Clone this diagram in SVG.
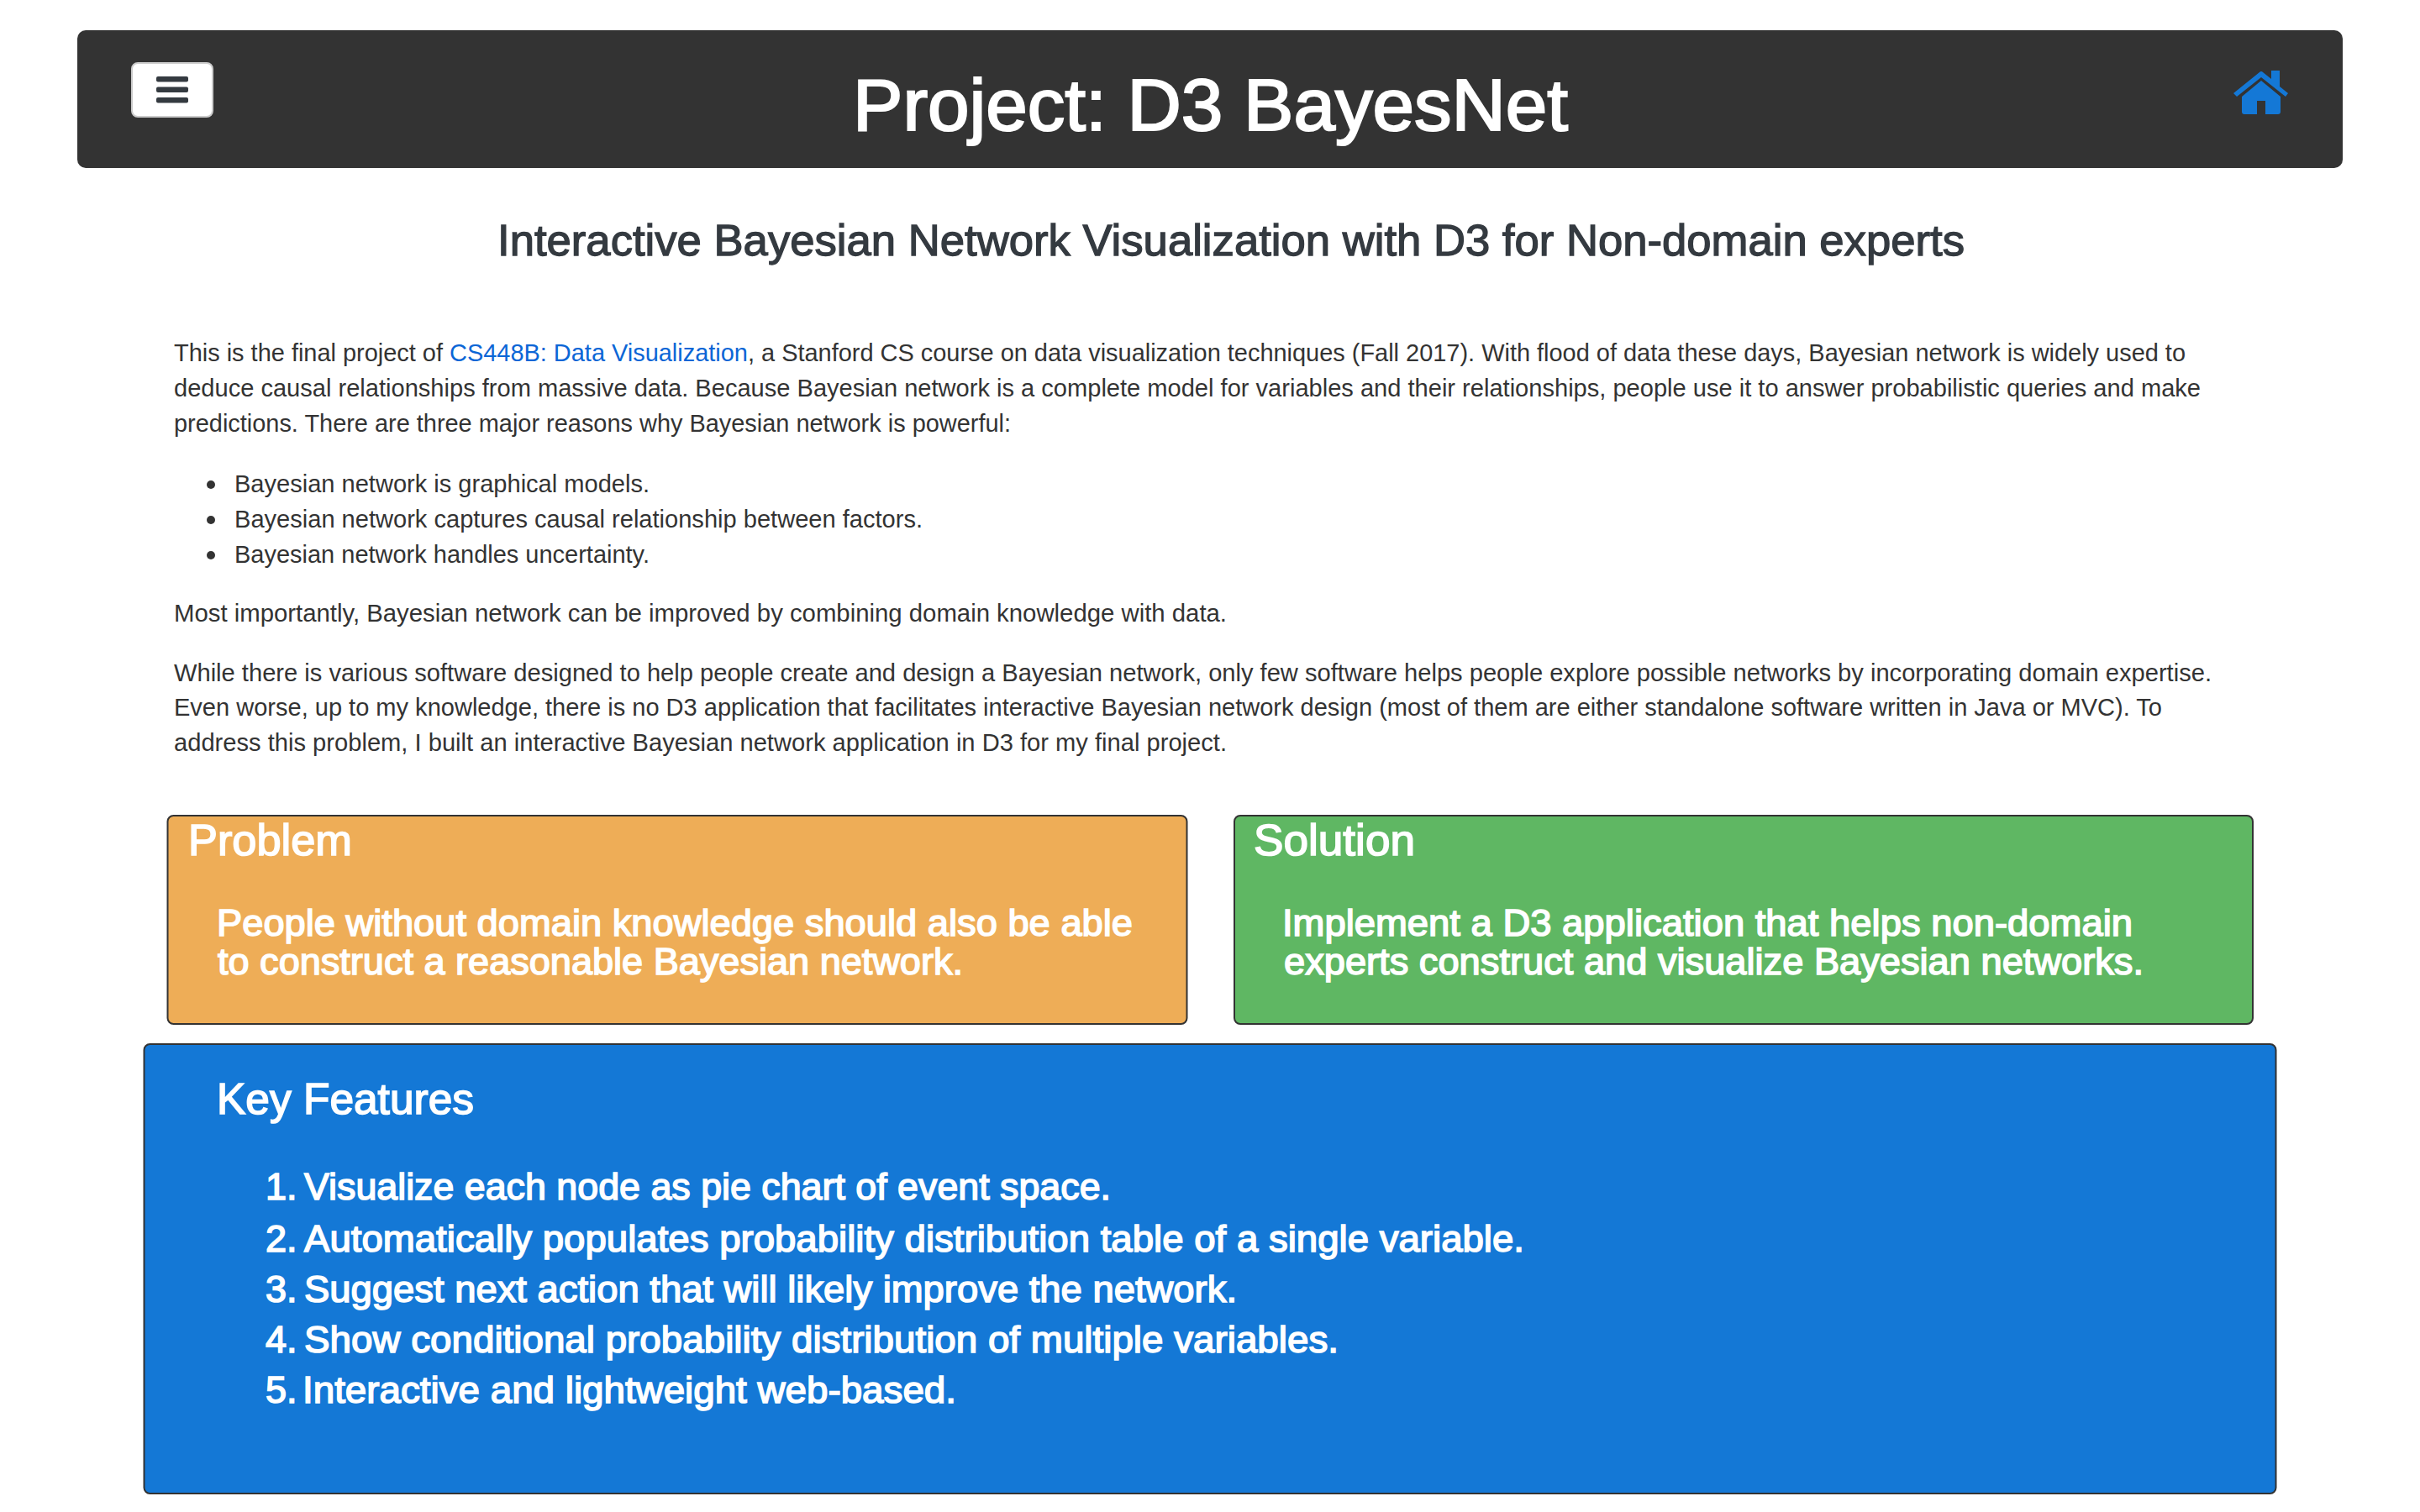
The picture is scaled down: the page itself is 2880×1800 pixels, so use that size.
<svg xmlns="http://www.w3.org/2000/svg" width="2880" height="1800" viewBox="0 0 2880 1800">
<style>
text{font-family:"Liberation Sans",Arial,sans-serif;white-space:pre}
.b{font-size:29px;fill:#333}
.w{fill:#fff;stroke:#fff;stroke-width:1.6px}
.t{font-size:88px;stroke-width:2.2px}
.h{font-size:52px}
.p{font-size:45px}
.k{font-size:45px}
.box{stroke:#333;stroke-width:2px}
</style>
<rect width="2880" height="1800" fill="#fff"/>
<g id="header">
<rect x="92" y="36" width="2696" height="164" rx="10" fill="#333"/>
<text x="1015" y="155" class="w t" textLength="851" lengthAdjust="spacingAndGlyphs">Project: D3 BayesNet</text>
</g>
<g id="menu-button">
<rect x="157" y="75" width="96" height="64" rx="7" fill="#fff" stroke="#ccc" stroke-width="2"/>
<rect x="186" y="91" width="38" height="6.5" rx="2" fill="#343a40"/>
<rect x="186" y="103.500" width="38" height="6.5" rx="2" fill="#343a40"/>
<rect x="186" y="116" width="38" height="6.5" rx="2" fill="#343a40"/>
</g>
<g id="home-icon" fill="#1478d6">
<path d="M2658 111L2689 86Q2691 84 2693 86L2703 94V84H2713V103L2723 111L2720 115L2691 92L2662 115Z"/>
<path d="M2668 115L2691 96L2714 115V133Q2714 136 2711 136H2696V120H2686V136H2671Q2668 136 2668 133Z"/>
</g>
<text id="subtitle" x="592" y="304" font-size="52" fill="#343a40" stroke="#343a40" stroke-width="1.3" textLength="1746" lengthAdjust="spacingAndGlyphs">Interactive Bayesian Network Visualization with D3 for Non-domain experts</text>
<g id="intro">
<text class="b" x="207" y="430" textLength="2394" lengthAdjust="spacingAndGlyphs">This is the final project of <tspan fill="#0b66d6">CS448B: Data Visualization</tspan>, a Stanford CS course on data visualization techniques (Fall 2017). With flood of data these days, Bayesian network is widely used to</text>
<text class="b" x="207" y="472" textLength="2412" lengthAdjust="spacingAndGlyphs">deduce causal relationships from massive data. Because Bayesian network is a complete model for variables and their relationships, people use it to answer probabilistic queries and make</text>
<text class="b" x="207" y="514" textLength="996" lengthAdjust="spacingAndGlyphs">predictions. There are three major reasons why Bayesian network is powerful:</text>
<circle cx="251" cy="577" r="5" fill="#333"/><circle cx="251" cy="619" r="5" fill="#333"/><circle cx="251" cy="661" r="5" fill="#333"/>
<text class="b" x="279" y="586" textLength="494" lengthAdjust="spacingAndGlyphs">Bayesian network is graphical models.</text>
<text class="b" x="279" y="628" textLength="819" lengthAdjust="spacingAndGlyphs">Bayesian network captures causal relationship between factors.</text>
<text class="b" x="279" y="670" textLength="494" lengthAdjust="spacingAndGlyphs">Bayesian network handles uncertainty.</text>
<text class="b" x="207" y="740" textLength="1253" lengthAdjust="spacingAndGlyphs">Most importantly, Bayesian network can be improved by combining domain knowledge with data.</text>
<text class="b" x="207" y="811" textLength="2425" lengthAdjust="spacingAndGlyphs">While there is various software designed to help people create and design a Bayesian network, only few software helps people explore possible networks by incorporating domain expertise.</text>
<text class="b" x="207" y="852" textLength="2366" lengthAdjust="spacingAndGlyphs">Even worse, up to my knowledge, there is no D3 application that facilitates interactive Bayesian network design (most of them are either standalone software written in Java or MVC). To</text>
<text class="b" x="207" y="894" textLength="1253" lengthAdjust="spacingAndGlyphs">address this problem, I built an interactive Bayesian network application in D3 for my final project.</text>
</g>
<g id="problem">
<rect class="box" x="199.500" y="971" width="1213" height="248" rx="7" fill="#eead57"/>
<text class="w h" x="224" y="1018" textLength="195" lengthAdjust="spacingAndGlyphs">Problem</text>
<text class="w p" x="258" y="1114" textLength="1090" lengthAdjust="spacingAndGlyphs">People without domain knowledge should also be able</text>
<text class="w p" x="259" y="1160" textLength="887" lengthAdjust="spacingAndGlyphs">to construct a reasonable Bayesian network.</text>
</g>
<g id="solution">
<rect class="box" x="1469" y="971" width="1212" height="248" rx="7" fill="#5fb763"/>
<text class="w h" x="1492" y="1018" textLength="192" lengthAdjust="spacingAndGlyphs">Solution</text>
<text class="w p" x="1526" y="1114" textLength="1012" lengthAdjust="spacingAndGlyphs">Implement a D3 application that helps non-domain</text>
<text class="w p" x="1528" y="1160" textLength="1023" lengthAdjust="spacingAndGlyphs">experts construct and visualize Bayesian networks.</text>
</g>
<g id="key-features">
<rect class="box" x="171.500" y="1243" width="2537" height="535" rx="7" fill="#1478d6"/>
<text class="w h" x="258" y="1326" textLength="306" lengthAdjust="spacingAndGlyphs">Key Features</text>
<text class="w k" x="316" y="1428">1.</text>
<text class="w k" x="362" y="1428" textLength="960" lengthAdjust="spacingAndGlyphs">Visualize each node as pie chart of event space.</text>
<text class="w k" x="316" y="1490">2.</text>
<text class="w k" x="362" y="1490" textLength="1452" lengthAdjust="spacingAndGlyphs">Automatically populates probability distribution table of a single variable.</text>
<text class="w k" x="316" y="1550">3.</text>
<text class="w k" x="362" y="1550" textLength="1110" lengthAdjust="spacingAndGlyphs">Suggest next action that will likely improve the network.</text>
<text class="w k" x="316" y="1610">4.</text>
<text class="w k" x="362" y="1610" textLength="1231" lengthAdjust="spacingAndGlyphs">Show conditional probability distribution of multiple variables.</text>
<text class="w k" x="316" y="1670">5.</text>
<text class="w k" x="360" y="1670" textLength="778" lengthAdjust="spacingAndGlyphs">Interactive and lightweight web-based.</text>
</g>
</svg>
